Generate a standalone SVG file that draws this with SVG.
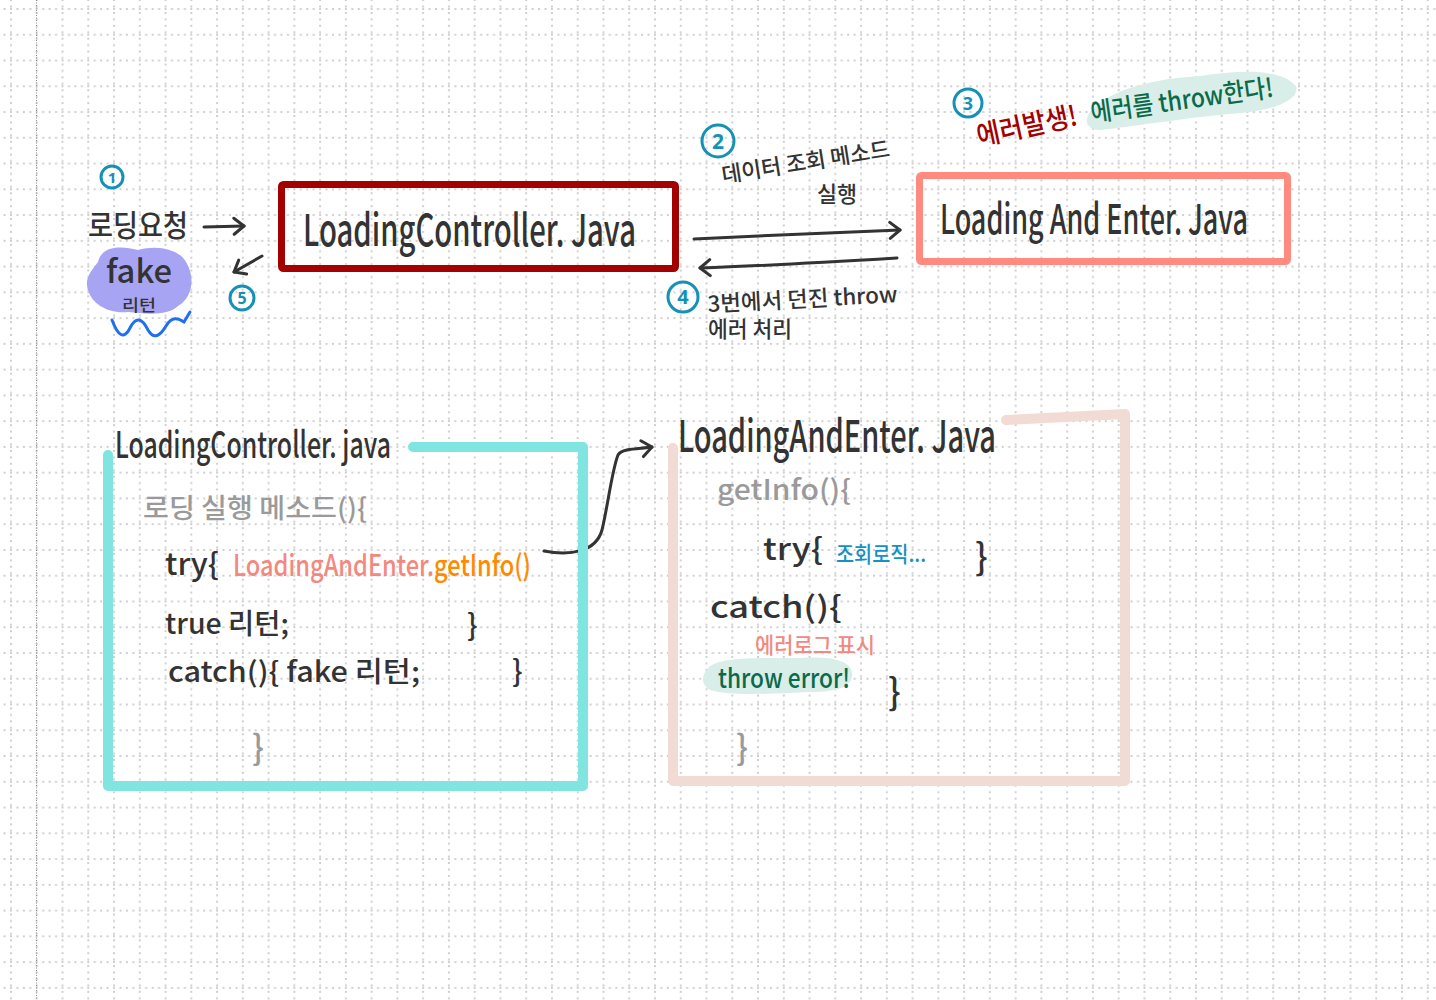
<svg xmlns="http://www.w3.org/2000/svg" width="1436" height="1000" viewBox="0 0 1436 1000">
<defs>
<pattern id="grid" width="25.76" height="25.76" patternUnits="userSpaceOnUse" x="10" y="8">
<path d="M0 1 H25.76" stroke="#cfcfcf" stroke-width="2" stroke-dasharray="2 4.44"/>
<path d="M1 4 V29.76" stroke="#cfcfcf" stroke-width="2" stroke-dasharray="2 4.44"/>
</pattern>
<marker id="arr" markerWidth="20" markerHeight="20" refX="14" refY="10" orient="auto" markerUnits="userSpaceOnUse">
<path d="M4 2 L14 10 L4 18" fill="none" stroke="#333" stroke-width="3" stroke-linecap="round" stroke-linejoin="round"/>
</marker>
<style>
.h{font-family:"Noto Sans CJK KR","Noto Sans",sans-serif;fill:#333;font-weight:500;}
.g{fill:#9a9a9a;}
.num{fill:none;stroke:#1591b5;stroke-width:3;}
.nt{font-family:"Noto Sans","Noto Sans CJK KR",sans-serif;fill:#1591b5;font-weight:bold;text-anchor:middle;}
.ln{fill:none;stroke:#333;stroke-width:3;stroke-linecap:round;stroke-linejoin:round;}
</style>
</defs>
<rect width="1436" height="1000" fill="#ffffff"/>
<rect width="1436" height="1000" fill="url(#grid)"/>
<line x1="36.5" y1="0" x2="36.5" y2="1000" stroke="#8c8c8c" stroke-width="1" stroke-dasharray="1 1.5"/>

<!-- step numbers -->
<g id="step1"><circle class="num" cx="112" cy="177" r="11"/><text class="nt" x="112" y="183" font-size="15">1</text></g>
<g id="step2"><circle class="num" cx="718" cy="141" r="16"/><text class="nt" x="718" y="149" font-size="21">2</text></g>
<g id="step3"><circle class="num" cx="968" cy="103" r="14"/><text class="nt" x="968" y="110" font-size="18">3</text></g>
<g id="step4"><circle class="num" cx="683" cy="297" r="15"/><text class="nt" x="683" y="304" font-size="20">4</text></g>
<g id="step5"><circle class="num" cx="242" cy="298" r="12"/><text class="nt" x="242" y="304" font-size="16">5</text></g>

<!-- request / fake -->
<g id="request">
<text class="h" x="88" y="236" font-size="30" textLength="100" lengthAdjust="spacingAndGlyphs">로딩요청</text>
</g>
<g id="fake">
<path d="M98 262 C102 245 122 246 138 250 C158 244 180 250 186 262 C196 278 192 298 178 306 C168 316 146 314 128 312 C108 314 92 304 88 290 C84 278 92 270 98 262 Z" fill="#a7a5f3"/>
<text class="h" x="106" y="283" font-size="32" textLength="66" lengthAdjust="spacingAndGlyphs">fake</text>
<text class="h" x="122" y="311" font-size="16" textLength="34" lengthAdjust="spacingAndGlyphs">리턴</text>
<path d="M112 320 C118 336 124 340 130 328 C136 316 142 318 148 330 C154 340 160 336 166 326 C172 316 178 318 184 322 L190 312" fill="none" stroke="#1f6ff0" stroke-width="3" stroke-linecap="round"/>
</g>

<!-- top boxes -->
<g id="ctrlBox">
<rect x="281.5" y="184.5" width="394" height="84" fill="none" stroke="#a30000" stroke-width="7" rx="2"/>
<text class="h" x="303" y="246" font-size="44" textLength="333" lengthAdjust="spacingAndGlyphs">LoadingController. Java</text>
</g>
<g id="enterBox">
<rect x="919.5" y="175.5" width="368" height="86" fill="none" stroke="#ff8b80" stroke-width="7" rx="2"/>
<text class="h" x="940" y="234" font-size="41" textLength="308" lengthAdjust="spacingAndGlyphs">Loading And Enter. Java</text>
</g>

<!-- labels top -->
<g id="label2">
<text class="h" font-size="22" transform="translate(723,183) rotate(-9)" textLength="170" lengthAdjust="spacingAndGlyphs">데이터 조회 메소드</text>
<text class="h" font-size="22" x="817" y="202" textLength="40" lengthAdjust="spacingAndGlyphs">실행</text>
</g>
<g id="label3">
<text font-family="Noto Sans CJK KR, sans-serif" font-weight="500" fill="#a30000" font-size="28" transform="translate(979,146) rotate(-12)" textLength="102" lengthAdjust="spacingAndGlyphs">에러발생!</text>
<path d="M1090 112 C1110 88 1160 78 1200 76 C1240 70 1280 68 1296 86 C1300 98 1280 108 1250 112 C1200 116 1150 124 1100 130 C1086 130 1084 120 1090 112 Z" fill="#d9eee8"/>
<text font-family="Noto Sans CJK KR, sans-serif" font-weight="500" fill="#0b6a49" font-size="26" transform="translate(1092,122) rotate(-8)" textLength="184" lengthAdjust="spacingAndGlyphs">에러를 throw한다!</text>
</g>
<g id="label4">
<text class="h" font-size="22" transform="translate(708,312) rotate(-3)" textLength="190" lengthAdjust="spacingAndGlyphs">3번에서  던진  throw</text>
<text class="h" font-size="22" x="708" y="337" textLength="84" lengthAdjust="spacingAndGlyphs">에러 처리</text>
</g>

<!-- connectors -->
<g id="connectors">
<path class="ln" d="M204 227 L244 226" marker-end="url(#arr)"/>
<path class="ln" d="M262 256 L234 272" marker-end="url(#arr)"/>
<path class="ln" d="M694 239 C760 236 840 232 900 230" marker-end="url(#arr)"/>
<path class="ln" d="M897 258 C830 262 760 266 700 268" marker-end="url(#arr)"/>
<path class="ln" d="M544 551 C570 556 596 552 602 530 C608 505 612 470 618 455 C622 448 640 449 652 447" marker-end="url(#arr)"/>
</g>

<!-- bottom left -->
<g id="ctrlCode">
<path d="M108 455 L108 786 L583 786 L583 447 L413 447" fill="none" stroke="#80e4e0" stroke-width="10" stroke-linecap="round" stroke-linejoin="round"/>
<text class="h" x="115" y="458" font-size="36" textLength="276" lengthAdjust="spacingAndGlyphs">LoadingController. java</text>
<text class="h g" x="143" y="518" font-size="27" textLength="224" lengthAdjust="spacingAndGlyphs">로딩 실행 메소드(){</text>
<text class="h" x="165" y="575" font-size="30" textLength="54" lengthAdjust="spacingAndGlyphs">try{</text>
<text class="h" x="233" y="576" font-size="29" textLength="298" lengthAdjust="spacingAndGlyphs"><tspan style="fill:#f4887e">LoadingAndEnter.</tspan><tspan style="fill:#ff8a00">getInfo()</tspan></text>
<text class="h" x="165" y="634" font-size="28" textLength="124" lengthAdjust="spacingAndGlyphs">true 리턴;</text>
<text class="h" x="467" y="636" font-size="30">}</text>
<text class="h" x="168" y="682" font-size="28" textLength="252" lengthAdjust="spacingAndGlyphs">catch(){ fake 리턴;</text>
<text class="h" x="512" y="682" font-size="30">}</text>
<text class="h g" x="252" y="760" font-size="34">}</text>
</g>

<!-- bottom right -->
<g id="enterCode">
<path d="M1006 420 L1125 414 L1125 781 L673 781 L673 448" fill="none" stroke="#f2dad5" stroke-width="10" stroke-linecap="round" stroke-linejoin="round"/>
<text class="h" x="678" y="452" font-size="44" textLength="318" lengthAdjust="spacingAndGlyphs">LoadingAndEnter. Java</text>
<text class="h g" x="717" y="500" font-size="28" textLength="134" lengthAdjust="spacingAndGlyphs">getInfo(){</text>
<text class="h" x="763" y="560" font-size="30" textLength="60" lengthAdjust="spacingAndGlyphs">try{</text>
<text class="h" x="836" y="562" font-size="22" style="fill:#1591c4" textLength="90" lengthAdjust="spacingAndGlyphs">조회로직...</text>
<text class="h" x="975" y="570" font-size="36">}</text>
<text class="h" x="710" y="618" font-size="30" textLength="132" lengthAdjust="spacingAndGlyphs">catch(){</text>
<text class="h" x="755" y="653" font-size="22" style="fill:#f4887e" textLength="120" lengthAdjust="spacingAndGlyphs">에러로그 표시</text>
<path d="M708 668 C720 656 760 658 800 658 C830 656 850 660 852 672 C854 686 840 692 810 692 C770 694 730 696 710 690 C700 684 702 674 708 668 Z" fill="#d9eee8"/>
<text class="h" x="718" y="688" font-size="26" style="fill:#0b6a49" textLength="132" lengthAdjust="spacingAndGlyphs">throw error!</text>
<text class="h" x="888" y="705" font-size="36">}</text>
<text class="h g" x="736" y="760" font-size="34">}</text>
</g>
</svg>
